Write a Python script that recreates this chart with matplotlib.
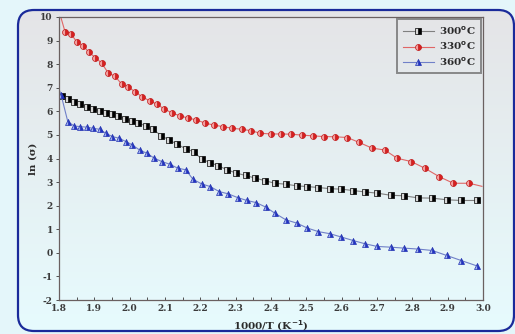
import numpy as np
import matplotlib
matplotlib.use("Agg")
import matplotlib.pyplot as plt
from matplotlib.patches import FancyBboxPatch
from matplotlib.ticker import MultipleLocator

# data
x_300 = [1.808, 1.825, 1.843, 1.860, 1.879, 1.896, 1.915, 1.932, 1.949, 1.968,
         1.987, 2.006, 2.024, 2.045, 2.066, 2.089, 2.111, 2.134, 2.159, 2.181,
         2.204, 2.227, 2.251, 2.276, 2.302, 2.328, 2.355, 2.383, 2.411, 2.442,
         2.473, 2.503, 2.534, 2.567, 2.599, 2.633, 2.667, 2.701, 2.739, 2.776,
         2.816, 2.856, 2.897, 2.939, 2.982]
y_300 = [6.65, 6.51, 6.41, 6.30, 6.20, 6.10, 6.03, 5.94, 5.88, 5.81,
         5.69, 5.59, 5.52, 5.38, 5.24, 4.97, 4.79, 4.61, 4.41, 4.29,
         3.97, 3.83, 3.69, 3.52, 3.38, 3.28, 3.17, 3.06, 2.95, 2.91,
         2.84, 2.81, 2.77, 2.72, 2.70, 2.64, 2.58, 2.53, 2.44, 2.42,
         2.33, 2.32, 2.25, 2.22, 2.22]

x_330 = [1.806, 1.817, 1.834, 1.851, 1.869, 1.885, 1.903, 1.921, 1.940, 1.958,
         1.977, 1.996, 2.015, 2.036, 2.057, 2.077, 2.098, 2.121, 2.143, 2.166,
         2.189, 2.213, 2.238, 2.264, 2.291, 2.317, 2.343, 2.370, 2.400, 2.428,
         2.458, 2.488, 2.518, 2.550, 2.582, 2.616, 2.648, 2.686, 2.722, 2.757,
         2.797, 2.835, 2.876, 2.916, 2.961, 2.997]
y_330 = [9.95, 9.38, 9.28, 8.93, 8.77, 8.50, 8.28, 8.04, 7.61, 7.50,
         7.16, 7.02, 6.84, 6.60, 6.45, 6.30, 6.10, 5.92, 5.81, 5.71,
         5.64, 5.50, 5.42, 5.35, 5.28, 5.24, 5.18, 5.07, 5.04, 5.04,
         5.03, 4.99, 4.96, 4.93, 4.92, 4.89, 4.69, 4.44, 4.36, 4.01,
         3.87, 3.59, 3.23, 2.95, 2.95, 2.82]
mark_330 = list(range(1, 45))

x_360 = [1.799, 1.806, 1.825, 1.843, 1.860, 1.879, 1.896, 1.915, 1.932, 1.951,
         1.970, 1.989, 2.007, 2.028, 2.049, 2.070, 2.091, 2.113, 2.136, 2.159,
         2.179, 2.204, 2.228, 2.253, 2.279, 2.306, 2.332, 2.358, 2.385, 2.411,
         2.442, 2.473, 2.503, 2.534, 2.567, 2.599, 2.633, 2.667, 2.701, 2.739,
         2.776, 2.816, 2.856, 2.897, 2.939, 2.982]
y_360 = [6.98, 6.69, 5.56, 5.38, 5.35, 5.33, 5.28, 5.24, 5.07, 4.93,
         4.86, 4.72, 4.58, 4.36, 4.22, 4.01, 3.87, 3.76, 3.59, 3.52,
         3.12, 2.92, 2.81, 2.60, 2.50, 2.34, 2.22, 2.13, 1.94, 1.68,
         1.40, 1.26, 1.05, 0.90, 0.81, 0.67, 0.52, 0.38, 0.27, 0.24,
         0.20, 0.16, 0.10, -0.11, -0.33, -0.55]
mark_360 = list(range(1, 46))

labels = ["300$^{\\mathbf{o}}$C", "330$^{\\mathbf{o}}$C", "360$^{\\mathbf{o}}$C"]

W, H = 515, 334
fig = plt.figure(figsize=(W / 100, H / 100), dpi=100)
fig.patch.set_facecolor("#e4f6fa")

# background panel with rounded frame
bg = fig.add_axes([0, 0, 1, 1])
bg.set_xlim(0, W)
bg.set_ylim(H, 0)
bg.axis("off")
frame = FancyBboxPatch((18, 10), 496, 321, boxstyle="round,pad=0,rounding_size=16",
                       facecolor="none", edgecolor="#1a2a9a", linewidth=1.6, zorder=3)
bg.add_patch(frame)
grad = np.linspace(0, 1, 256).reshape(-1, 1)
top = np.array([0.895, 0.895, 0.905])
bot = np.array([0.905, 0.985, 0.995])
img = top + (bot - top) * grad[..., None]
im = bg.imshow(img, extent=[18, 514, 331, 10], aspect="auto", zorder=1)
im.set_clip_path(frame)

ax = fig.add_axes([59 / W, 1 - 300 / H, 424 / W, 283 / H])
ax.set_facecolor("none")

ax.plot(x_300, y_300, color="#808080", lw=0.8, marker="s", markersize=3.8,
        markerfacecolor="black", markerfacecoloralt="#d8d8d8", fillstyle="right",
        markeredgecolor="black", markeredgewidth=0.5, label=labels[0])
ax.plot(x_330, y_330, color="#e06666", lw=0.8, marker="o", markersize=4.3,
        markevery=mark_330,
        markerfacecolor="#d82020", markerfacecoloralt="#f4a0a0", fillstyle="right",
        markeredgecolor="#c01818", markeredgewidth=0.5, label=labels[1])
ax.plot(x_360, y_360, color="#7080c8", lw=0.8, marker="^", markersize=4.3,
        markevery=mark_360,
        markerfacecolor="#2030c8", markerfacecoloralt="#a0b0f0", fillstyle="right",
        markeredgecolor="#2030b0", markeredgewidth=0.5, label=labels[2])

ax.set_xlim(1.8, 3.0)
ax.set_ylim(-2, 10)
ax.xaxis.set_major_locator(MultipleLocator(0.1))
ax.xaxis.set_minor_locator(MultipleLocator(0.05))
ax.yaxis.set_major_locator(MultipleLocator(1))

tfont = dict(family="DejaVu Serif", weight="bold", size=6.5)
ax.set_xticks(ax.get_xticks())
ax.set_xticklabels(["%.1f" % v for v in ax.get_xticks()], **tfont, color="#3a3a3a")
ax.set_yticks(ax.get_yticks())
ax.set_yticklabels(["%d" % v for v in ax.get_yticks()], **tfont, color="#3a3a3a")
ax.set_xlim(1.8, 3.0)
ax.set_ylim(-2, 10)

ax.tick_params(axis="x", which="both", direction="in", length=2.5, width=0.7,
               color="#505050", pad=3)
ax.tick_params(axis="y", which="both", direction="out", length=2.5, width=0.7,
               color="#505050", pad=2)
for s in ax.spines.values():
    s.set_color("#6a6060")
    s.set_linewidth(0.9)

lfont = dict(family="DejaVu Serif", weight="bold", size=7.5, color="#2a2a2a")
ax.set_xlabel("1000/T (K$^{\\mathbf{-1}}$)", labelpad=4, **lfont)
ax.set_ylabel("ln (σ)", labelpad=2, **lfont)

leg = ax.legend(loc="upper right", frameon=True, fancybox=False, handlelength=3,
                borderaxespad=0.15, labelspacing=0.3, borderpad=0.55,
                handletextpad=0.5,
                prop=dict(family="DejaVu Serif", weight="bold", size=7.5))
leg.get_frame().set_edgecolor("#707070")
leg.get_frame().set_linewidth(1.4)
leg.get_frame().set_facecolor("none")
for t in leg.get_texts():
    t.set_color("#2a2a2a")

fig.savefig("out.png", dpi=100, facecolor=fig.get_facecolor())
